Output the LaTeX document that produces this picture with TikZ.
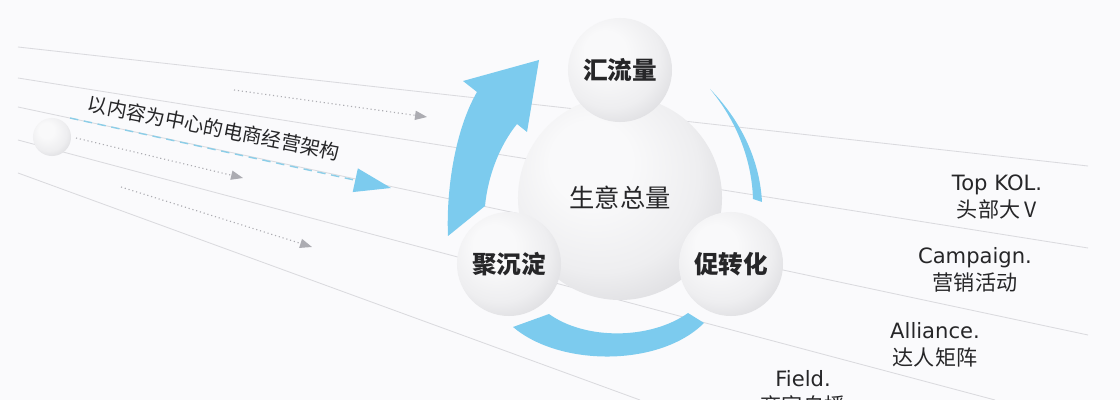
\documentclass[tikz,border=0pt]{standalone}
\usepackage{fontspec}
\setmainfont{DejaVu Sans}
\newfontfamily\cjk{Noto Sans CJK SC}
\usetikzlibrary{arrows.meta}

\definecolor{fb-BackColor}{RGB}{250,250,252}
\definecolor{fb-LineColor}{RGB}{218,218,222}
\definecolor{fb-FlowColor}{RGB}{124,203,238}
\definecolor{fb-DashColor}{RGB}{140,206,232}
\definecolor{fb-DotColor}{RGB}{172,172,178}
\definecolor{fb-TextColor}{RGB}{38,38,40}
\definecolor{fb-BallHigh}{RGB}{249,249,250}
\definecolor{fb-BallMid}{RGB}{238,238,240}
\definecolor{fb-BallLow}{RGB}{210,210,214}

\pgfdeclareradialshading{fb-ball}{\pgfqpoint{-9bp}{11bp}}{%
  color(0bp)=(fb-BallHigh); color(10bp)=(fb-BallHigh);
  color(24bp)=(fb-BallMid); color(38bp)=(fb-BallLow); color(50bp)=(fb-BallLow)}

\tikzstyle{fb-ball-base}=[circle,
                          shading=fb-ball,
                          text=fb-TextColor,
                          inner sep=0pt,
                         ]
\tikzstyle{fb-core}=[fb-ball-base,
                     minimum size=5.1cm,
                     font=\cjk\fontsize{18}{20}\selectfont]
\tikzstyle{fb-stage}=[fb-ball-base,
                      minimum size=2.6cm,
                      font=\cjk\bfseries\fontsize{17.5}{20}\selectfont]
\tikzstyle{fb-channel}=[align=center, text=fb-TextColor,
                        font=\fontsize{15}{19}\selectfont]
\tikzstyle{fb-guide}=[fb-LineColor, line width=0.6pt]
\tikzstyle{fb-dotted}=[fb-DotColor, dotted, line width=0.8pt,
                       -{Triangle[length=8.5pt, width=6.5pt]}]
\tikzstyle{fb-dashed}=[fb-DashColor, dash pattern=on 6pt off 4pt, line width=1pt,
                       -{Triangle[length=26pt, width=17pt, fb-FlowColor]}]

\begin{document}
\begin{tikzpicture}[x=0.025cm, y=-0.025cm]
    % Canvas
    % --------------------------------------------------------------------------
    \useasboundingbox (0,0) rectangle (1120,400);
    \fill[fb-BackColor] (0,0) rectangle (1120,400);
    \clip (0,0) rectangle (1120,400);

    % Guide lines
    % --------------------------------------------------------------------------
    \coordinate (guide_1_l) at (  18,  47);
    \coordinate (guide_1_r) at (1088, 166);
    \draw[fb-guide] (guide_1_l) -- (guide_1_r);

    \coordinate (guide_2_l) at (  18,  78);
    \coordinate (guide_2_r) at (1088, 248);
    \draw[fb-guide] (guide_2_l) -- (guide_2_r);

    \coordinate (guide_3_l) at (  18, 107);
    \coordinate (guide_3_r) at (1088, 335);
    \draw[fb-guide] (guide_3_l) -- (guide_3_r);

    \coordinate (guide_4_l) at (  18, 140);
    \coordinate (guide_4_r) at ( 995, 400);
    \draw[fb-guide] (guide_4_l) -- (guide_4_r);

    \coordinate (guide_5_l) at (  18, 173);
    \coordinate (guide_5_r) at ( 640, 400);
    \draw[fb-guide] (guide_5_l) -- (guide_5_r);

    % Flow bands
    % --------------------------------------------------------------------------
    \fill[fb-FlowColor] (448,236) .. controls (446,190) and (455,130) .. (477,92)
        -- (463,81) -- (539,60) -- (527,132) -- (517,124)
        .. controls (500,145) and (488,175) .. (485,206) -- cycle;
    \fill[fb-FlowColor] (513,327) .. controls (560,367) and (660,367) .. (704,323)
        -- (688,313) .. controls (650,340) and (585,340) .. (549,314) -- cycle;
    \fill[fb-FlowColor] (710,89) .. controls (745,125) and (760,165) .. (762,202)
        -- (753,199) .. controls (752,165) and (740,125) .. (710,89) -- cycle;

    % Circles
    % --------------------------------------------------------------------------
    \node at (620, 198) (core)    [fb-core]  {生意总量};
    \node at (620,  70) (inflow)  [fb-stage] {汇流量};
    \node at (509, 264) (retain)  [fb-stage] {聚沉淀};
    \node at (731, 264) (convert) [fb-stage] {促转化};
    \node at ( 52, 137) (origin)  [fb-ball-base, minimum size=0.95cm] {};

    % Arrows
    % --------------------------------------------------------------------------
    \coordinate (dash_s)  at ( 70, 118);
    \coordinate (dash_e)  at (391, 188);
    \draw[fb-dashed] (dash_s) -- (dash_e);

    \coordinate (dot_1_s) at (234,  90);
    \coordinate (dot_1_e) at (427, 117);
    \draw[fb-dotted] (dot_1_s) -- (dot_1_e);

    \coordinate (dot_2_s) at ( 76, 138);
    \coordinate (dot_2_e) at (243, 178);
    \draw[fb-dotted] (dot_2_s) -- (dot_2_e);

    \coordinate (dot_3_s) at (121, 187);
    \coordinate (dot_3_e) at (312, 247);
    \draw[fb-dotted] (dot_3_s) -- (dot_3_e);

    % Labels
    % --------------------------------------------------------------------------
    \node at (214, 128) (title) [rotate=-11, text=fb-TextColor,
                                 font=\cjk\fontsize{14}{16}\selectfont] {以内容为中心的电商经营架构};

    \node at (997, 197) (kol)      [fb-channel] {Top KOL.\\{\cjk 头部大 V}};
    \node at (975, 270) (campaign) [fb-channel] {Campaign.\\{\cjk 营销活动}};
    \node at (935, 345) (alliance) [fb-channel] {Alliance.\\{\cjk 达人矩阵}};
    \node at (803, 393) (field)    [fb-channel] {Field.\\{\cjk 商家自播}};
\end{tikzpicture}
\end{document}
